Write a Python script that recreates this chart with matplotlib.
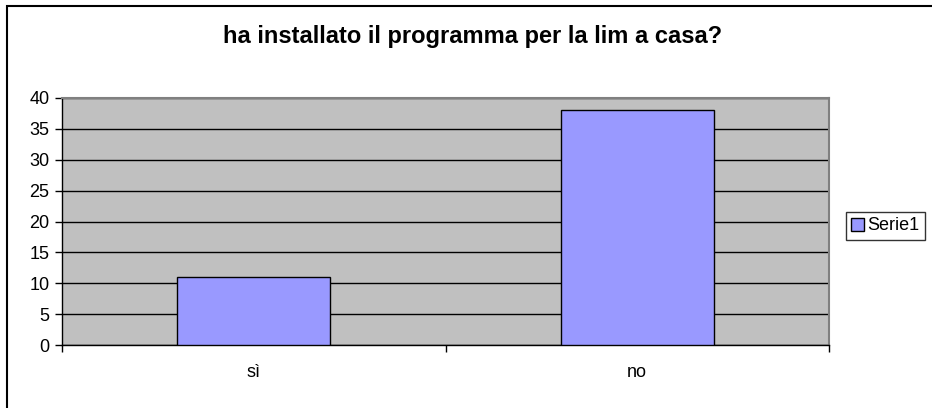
import matplotlib
matplotlib.use("Agg")
import matplotlib.pyplot as plt
from matplotlib.patches import Rectangle, Patch

categories = ["sì", "no"]
values = [11, 38]
series_name = "Serie1"
title = "ha installato il programma per la lim a casa?"
yticks = [0, 5, 10, 15, 20, 25, 30, 35, 40]

plt.rcParams['font.family'] = ['Liberation Sans', 'DejaVu Sans']

W, H = 932, 408
fig = plt.figure(figsize=(W / 100, H / 100), dpi=100)

# outer chart border (right/bottom cut off in reference)
fig.patches.append(Rectangle((7 / W, -0.1), 1.2, 1 - 6.5 / H + 0.1,
                             transform=fig.transFigure, fill=False,
                             edgecolor="black", linewidth=1.5))

ax = fig.add_axes([62 / W, 1 - 345 / H, (829 - 62) / W, (345 - 98) / H])
ax.set_facecolor("#C0C0C0")
x = list(range(len(categories)))
bars = ax.bar(x, values, width=0.4, color="#9999FF", edgecolor="black",
              linewidth=1, zorder=3)
ax.set_xlim(-0.5, len(categories) - 0.5)
ax.set_ylim(0, 40)
ax.set_yticks(yticks)
ax.set_yticklabels([str(v) for v in yticks], fontsize=13)
ax.yaxis.grid(True, color="black", linewidth=1, zorder=1)
ax.set_axisbelow(True)

ax.set_xticks([-0.5, 0.5, 1.5], minor=False)
ax.set_xticklabels([])
ax.set_xticks(x, minor=True)
ax.set_xticklabels(categories, minor=True, fontsize=13)
ax.tick_params(axis="x", which="minor", length=0, pad=14)
ax.tick_params(axis="x", which="major", length=5, width=1, direction="out")
ax.tick_params(axis="y", length=5, width=1, direction="out", pad=4)

for s in ["top", "right"]:
    ax.spines[s].set_color("#808080")
    ax.spines[s].set_linewidth(1.5)
for s in ["left", "bottom"]:
    ax.spines[s].set_color("black")
    ax.spines[s].set_linewidth(1)

fig.text(473 / W, 1 - 36 / H, title, ha="center",
         va="center", fontsize=17, fontweight="bold")

leg = fig.legend(handles=[Patch(facecolor="#9999FF", edgecolor="black",
                                label=series_name)],
                 loc="center left", bbox_to_anchor=(846 / W, 1 - 226 / H),
                 fontsize=13, frameon=True, fancybox=False,
                 handlelength=0.7, handleheight=0.7, handletextpad=0.2,
                 borderpad=0.3, borderaxespad=0)
leg.get_frame().set_edgecolor("black")
leg.get_frame().set_linewidth(1)

fig.savefig("out.png", dpi=100)
